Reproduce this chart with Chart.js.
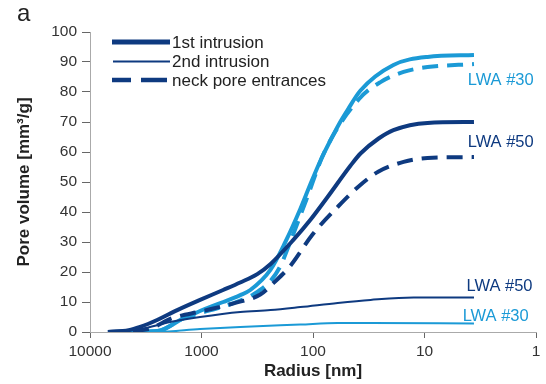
<!DOCTYPE html>
<html>
<head>
<meta charset="utf-8">
<script src="https://cdn.jsdelivr.net/npm/chart.js@4"></script>
<style>
  body { margin: 0; background: #fff; }
  canvas { display: block; }
</style>
</head>
<body>
<canvas id="poreChart" width="546" height="384"></canvas>
<script>
// Radius values [nm] and cumulative pore volume [mm3/g].
const lwa50FirstRadius = [6900, 4500, 3550, 2500, 1650, 1030, 640, 450, 316, 240, 150, 105, 74, 46, 37.5, 25.8, 19, 9.4, 3.6];
const lwa50FirstVolume = [0, 0.6, 1.7, 4, 7.3, 10.7, 14, 16.5, 19.3, 22.7, 30.7, 37.5, 45, 55.5, 59.5, 64.5, 67.3, 69.7, 70];

const lwa50SecondRadius = [6900, 3550, 1910, 1030, 449, 241, 130, 60, 30.5, 12.5, 3.6];
const lwa50SecondVolume = [0, 1, 3.3, 5, 6.7, 7.3, 8.3, 9.7, 10.7, 11.5, 11.5];

const lwa50NeckRadius = [6900, 3000, 1800, 1000, 498, 297, 227, 160, 101, 59, 39, 25.8, 15.4, 9.4, 3.6];
const lwa50NeckVolume = [0, 1, 4.7, 6.9, 9.7, 12.5, 16.3, 22, 32.5, 42, 48.5, 53.5, 56.7, 58, 58.3];

const lwa30FirstRadius = [6900, 2500, 1460, 1263, 889, 638, 449, 365, 241, 177, 130, 105, 86, 74, 57, 49, 37.5, 19, 9.4, 3.6];
const lwa30FirstVolume = [0, 0.3, 4.5, 5.5, 8, 10, 12.3, 14, 20.7, 30, 41, 49.5, 57, 62, 70, 74, 80.5, 89, 91.7, 92.3];

const lwa30NeckRadius = [6900, 2500, 1460, 1093, 638, 449, 343, 241, 196, 160, 115, 79, 39, 24.8, 15.4, 9.4, 3.6];
const lwa30NeckVolume = [0, 0.3, 4.5, 6, 8.5, 10.5, 12.5, 17, 22, 30, 44, 60, 77.5, 83.3, 86.7, 88.3, 89.3];

const lwa30SecondRadius = [6900, 2500, 1030, 449, 130, 60, 30.5, 3.6];
const lwa30SecondVolume = [0, 0, 1, 1.7, 2.5, 3, 3, 2.8];

const radiusTicks = [10000, 1000, 100, 10, 1];

const legendLabels = ["1st intrusion", "2nd intrusion", "neck pore entrances"];

// Curve labels placed at a data position (radius, volume).
const curveLabels = [
  { text: "LWA #30", radius: 4.1, volume: 84, series: "lwa30" },
  { text: "LWA #50", radius: 4.1, volume: 63.3, series: "lwa50" },
  { text: "LWA #50", radius: 4.2, volume: 15.3, series: "lwa50" },
  { text: "LWA #30", radius: 4.55, volume: 5.3, series: "lwa30" }
];

const darkBlue = "#0e3a80";
const lightBlue = "#1b9ad6";
const seriesColors = { lwa50: darkBlue, lwa30: lightBlue };

// Pair up radius and volume arrays into {x, y} points.
function toPoints(radius, volume) {
  return radius.map((r, i) => ({ x: r, y: volume[i] }));
}

function makeDataset(label, radius, volume, color, width, dash) {
  return {
    label: label,
    data: toPoints(radius, volume),
    borderColor: color,
    backgroundColor: color,
    borderWidth: width,
    borderDash: dash,
    borderCapStyle: "butt",
    pointRadius: 0,
    cubicInterpolationMode: "monotone",
    fill: false
  };
}

const FONT = "'Liberation Sans', Arial, sans-serif";
Chart.defaults.font.family = FONT;

// Draws the panel letter, the line-style legend and the curve labels.
const annotationPlugin = {
  id: "annotations",
  afterDraw(chart) {
    const ctx = chart.ctx;
    const xScale = chart.scales.x;
    const yScale = chart.scales.y;
    ctx.save();

    ctx.fillStyle = "#222";
    ctx.font = "24px " + FONT;
    ctx.textAlign = "left";
    ctx.textBaseline = "alphabetic";
    ctx.fillText("a", 17, 21);

    // legend
    const rows = [42, 61.5, 80];
    ctx.strokeStyle = darkBlue;
    ctx.lineCap = "butt";
    ctx.lineWidth = 5;
    ctx.beginPath(); ctx.moveTo(112, rows[0]); ctx.lineTo(170, rows[0]); ctx.stroke();
    ctx.lineWidth = 2;
    ctx.beginPath(); ctx.moveTo(113, rows[1]); ctx.lineTo(170, rows[1]); ctx.stroke();
    ctx.lineWidth = 4.5;
    ctx.beginPath(); ctx.moveTo(112, rows[2]); ctx.lineTo(131, rows[2]); ctx.stroke();
    ctx.beginPath(); ctx.moveTo(141, rows[2]); ctx.lineTo(167, rows[2]); ctx.stroke();

    ctx.fillStyle = "#222";
    ctx.font = "17px " + FONT;
    ctx.textBaseline = "middle";
    legendLabels.forEach((t, i) => ctx.fillText(t, 172, rows[i] + 1));

    ctx.font = "16.5px " + FONT;
    curveLabels.forEach(l => {
      ctx.fillStyle = seriesColors[l.series];
      ctx.fillText(l.text, xScale.getPixelForValue(l.radius), yScale.getPixelForValue(l.volume));
    });
    ctx.restore();
  }
};

const ctx = document.getElementById("poreChart").getContext("2d");
new Chart(ctx, {
  type: "line",
  data: {
    datasets: [
      makeDataset("LWA #50 1st intrusion", lwa50FirstRadius, lwa50FirstVolume, darkBlue, 4, []),
      makeDataset("LWA #50 2nd intrusion", lwa50SecondRadius, lwa50SecondVolume, darkBlue, 2, []),
      makeDataset("LWA #50 neck pore entrances", lwa50NeckRadius, lwa50NeckVolume, darkBlue, 4, [16, 9]),
      makeDataset("LWA #30 1st intrusion", lwa30FirstRadius, lwa30FirstVolume, lightBlue, 4, []),
      makeDataset("LWA #30 2nd intrusion", lwa30SecondRadius, lwa30SecondVolume, lightBlue, 2, []),
      makeDataset("LWA #30 neck pore entrances", lwa30NeckRadius, lwa30NeckVolume, lightBlue, 4, [16, 9])
    ]
  },
  options: {
    responsive: false,
    devicePixelRatio: 1,
    animation: false,
    layout: { padding: { top: 32, right: 10, bottom: 0, left: 0 } },
    plugins: {
      legend: { display: false },
      tooltip: { enabled: false }
    },
    scales: {
      x: {
        type: "logarithmic",
        reverse: true,
        min: 1,
        max: 10000,
        afterFit: scale => { scale.height = 52; },
        afterBuildTicks: scale => {
          scale.ticks = radiusTicks.map(v => ({ value: v }));
        },
        ticks: {
          color: "#333",
          font: { size: 15.5 },
          padding: 4,
          maxRotation: 0,
          autoSkip: false,
          callback: value => String(value)
        },
        grid: { display: true, drawOnChartArea: false, drawTicks: true, tickLength: 6, color: "#666" },
        border: { color: "#aaa", width: 1 },
        title: {
          display: true,
          text: "Radius [nm]",
          color: "#222",
          font: { size: 17, weight: "bold" },
          padding: { top: 0, bottom: 2 }
        }
      },
      y: {
        min: 0,
        max: 100,
        afterFit: scale => { scale.width = 90; },
        ticks: {
          stepSize: 10,
          color: "#333",
          font: { size: 15.5 },
          padding: 5
        },
        grid: { display: true, drawOnChartArea: false, drawTicks: true, tickLength: 8, color: "#666" },
        border: { color: "#aaa", width: 1 },
        title: {
          display: true,
          text: "Pore volume [mm³/g]",
          color: "#222",
          font: { size: 17, weight: "bold" },
          padding: { top: 14, bottom: 0 }
        }
      }
    }
  },
  plugins: [annotationPlugin]
});
</script>
</body>
</html>
